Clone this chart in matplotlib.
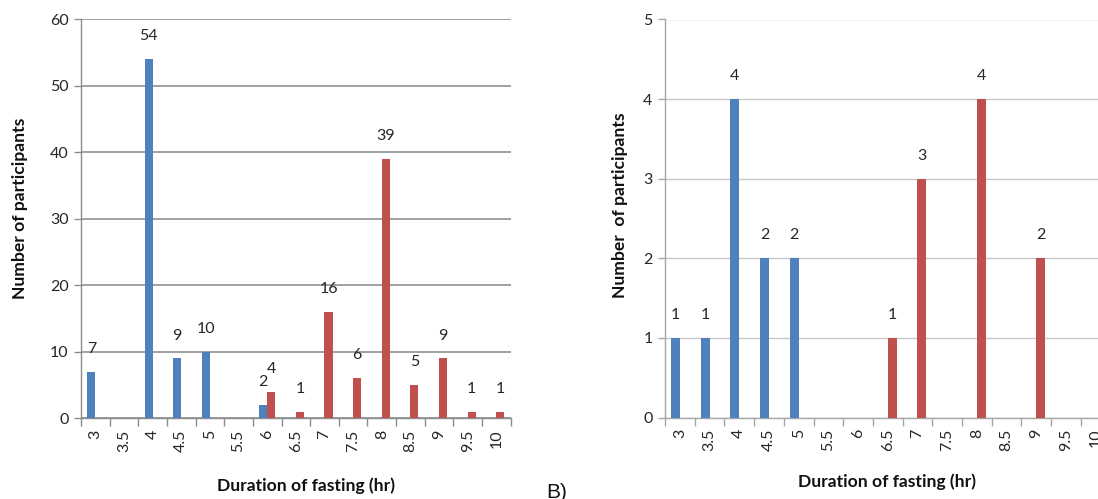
import numpy as np
import matplotlib.pyplot as plt

plt.rcParams['font.family'] = ['Lato', 'DejaVu Sans']

# fasting duration categories (hr)
hours = ['3', '3.5', '4', '4.5', '5', '5.5', '6', '6.5', '7', '7.5', '8', '8.5', '9', '9.5', '10']

# panel A
a_blue = [7, 0, 54, 9, 10, 0, 2, 0, 0, 0, 0, 0, 0, 0, 0]
a_red = [0, 0, 0, 0, 0, 0, 4, 1, 16, 6, 39, 5, 9, 1, 1]

# panel B
b_blue = [1, 1, 4, 2, 2, 0, 0, 0, 0, 0, 0, 0, 0, 0, 0]
b_red = [0, 0, 0, 0, 0, 0, 0, 1, 3, 0, 4, 0, 2, 0, 0]

BLUE = '#4F81BD'
RED = '#C0504D'
TXT = '#262626'

W, H = 1098, 499
fig = plt.figure(figsize=(W / 100, H / 100), dpi=100)
ax1 = fig.add_axes([81 / W, (H - 418.3) / H, 429.7 / W, 399 / H])
ax2 = fig.add_axes([665 / W, (H - 417.5) / H, 445.5 / W, 398 / H])


def draw(ax, blue, red, ymax, step, width, grid_color, axis_color, grid_lw):
    x = np.arange(len(hours))
    ax.bar(x - width / 2, blue, width, color=BLUE, zorder=3)
    ax.bar(x + width / 2, red, width, color=RED, zorder=3)
    for xi, v in zip(x, blue):
        if v > 0:
            ax.annotate(str(v), (xi - width / 2, v), xytext=(0, 16.5), textcoords='offset points',
                        ha='center', va='center', fontsize=11.5, color=TXT)
    for xi, v in zip(x, red):
        if v > 0:
            ax.annotate(str(v), (xi + width / 2, v), xytext=(0, 16.5), textcoords='offset points',
                        ha='center', va='center', fontsize=11.5, color=TXT)

    ax.set_xlim(-0.5, len(hours) - 0.5)
    ax.set_ylim(0, ymax)
    ax.set_yticks(np.arange(0, ymax + step, step))
    ax.set_xticks(x)
    ax.set_xticklabels(hours, rotation=90, va='top')
    ax.set_xticks(np.arange(-0.5, len(hours), 1), minor=True)
    ax.tick_params(axis='x', which='major', length=0, pad=8, labelsize=11.5, labelcolor=TXT)
    ax.tick_params(axis='x', which='minor', length=6, width=1, color=axis_color)
    ax.tick_params(axis='y', length=5, width=1, color=axis_color, pad=4, labelsize=11.5, labelcolor=TXT)
    ax.grid(axis='y', color=grid_color, lw=grid_lw)
    ax.set_axisbelow(True)
    for s in ['top', 'right']:
        ax.spines[s].set_visible(False)
    for s in ['left', 'bottom']:
        ax.spines[s].set_color(axis_color)
        ax.spines[s].set_linewidth(1)


draw(ax1, a_blue, a_red, 60, 10, 0.28, '#9A9A9A', '#8C8C8C', 1.3)
draw(ax2, b_blue, b_red, 5, 1, 0.30, '#C8C8C8', '#A6A6A6', 1.0)

fig.text(20 / W, 1 - 208 / H, 'Number of participants', rotation=90, ha='center', va='center',
         fontsize=12.6, fontweight='bold', color='#111111')
fig.text(620 / W, 1 - 205 / H, 'Number  of participants', rotation=90, ha='center', va='center',
         fontsize=12.6, fontweight='bold', color='#111111')
fig.text(306 / W, 1 - 486 / H, 'Duration of fasting (hr)', ha='center', va='center',
         fontsize=12.6, fontweight='bold', color='#111111')
fig.text(886.5 / W, 1 - 482 / H, 'Duration of fasting (hr)', ha='center', va='center',
         fontsize=12.6, fontweight='bold', color='#111111')
fig.text(546 / W, 1 - 483 / H, 'B)', ha='left', va='top', fontsize=15,
         family='Liberation Sans', color='#111111')

fig.savefig('out.png', dpi=100)
